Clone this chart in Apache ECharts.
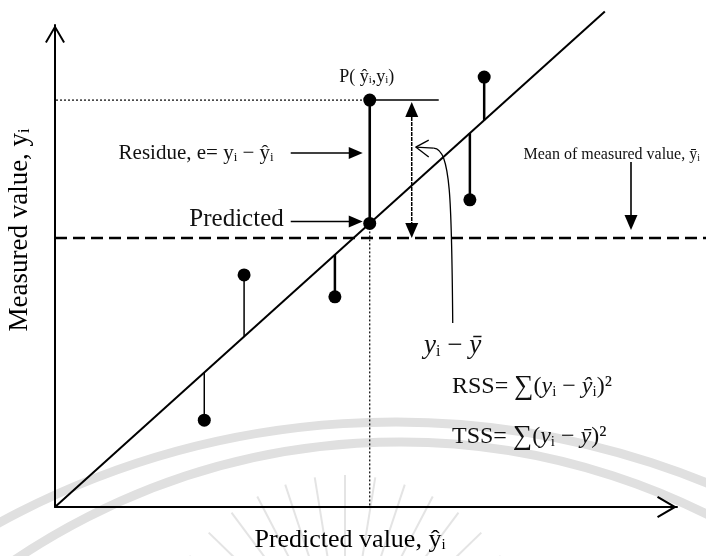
<!DOCTYPE html>
<html>
<head>
<meta charset="utf-8">
<script src="https://cdn.jsdelivr.net/npm/echarts@6/dist/echarts.min.js"></script>
<style>
  html, body { margin: 0; padding: 0; background: #fff; }
  #chart { width: 706px; height: 556px; }
</style>
</head>
<body>
<div id="chart"></div>
<script>
// Sample observations: predicted value ŷ (x) and measured value y
const predicted = [24, 30.4, 45, 50.6, 66.7, 69];
const measured  = [15.5, 41.4, 37.5, 72.6, 54.8, 76.7];
// The observation labelled P(ŷi, yi)
const highlightIndex = 3;
// Mean of the measured values, ȳ
const meanMeasured = 48.0;
// The y = ŷ line is drawn from 0 up to this value
const fitLineEnd = 88.4;
// Axis ranges
const xRange = [0, 100];
const yRange = [0, 86];

// Residual stem widths per observation
const stemWidth = [1.5, 1.5, 2.5, 2.6, 2.5, 2.5];

const FONT = '"Liberation Serif", "Times New Roman", serif';
const chevron = 'path://M0,18 L10.5,0 L21,18 L19.2,19 L10.5,4 L1.8,19 Z';

function sub(size, pad) {
  return { fontFamily: FONT, fontSize: size, fill: '#111', padding: [pad, 0, 0, 0] };
}
function txt(size, italic) {
  return { fontFamily: FONT, fontSize: size, fill: '#111', fontStyle: italic ? 'italic' : 'normal' };
}

// filled triangle arrowhead with its tip at (tx, ty), pointing along (dx, dy)
function arrowHead(tx, ty, dx, dy, len, halfW) {
  const n = Math.hypot(dx, dy); const ux = dx / n, uy = dy / n;
  const bx = tx - ux * len, by = ty - uy * len;
  return {
    type: 'polygon',
    shape: { points: [[tx, ty], [bx - uy * halfW, by + ux * halfW], [bx + uy * halfW, by - ux * halfW]] },
    style: { fill: '#000' }
  };
}
function seg(x1, y1, x2, y2, w, dash) {
  return { type: 'line', shape: { x1, y1, x2, y2 }, style: { stroke: '#000', lineWidth: w, lineDash: dash || null } };
}
function label(x, y, text, rich, align) {
  return { type: 'text', x, y, style: { text, rich, align: align || 'left', verticalAlign: 'middle', fill: '#111' } };
}

// faint seal in the background: two arcs and a fan of rays
const sealGraphics = [
  { type: 'arc', z: -10, shape: { cx: 395, cy: 1250, r: 828, startAngle: Math.PI * 1.1, endAngle: Math.PI * 1.9 },
    style: { stroke: '#e0e0e0', lineWidth: 9, fill: null } },
  { type: 'arc', z: -10, shape: { cx: 400, cy: 1130, r: 688, startAngle: Math.PI * 1.1, endAngle: Math.PI * 1.9 },
    style: { stroke: '#e0e0e0', lineWidth: 9, fill: null } }
];
for (let k = -7; k <= 7; k++) {
  const a = -Math.PI / 2 + k * 0.16;
  const cx = 345, cy = 665;
  sealGraphics.push({
    type: 'line', z: -10,
    shape: { x1: cx + Math.cos(a) * 105, y1: cy + Math.sin(a) * 105, x2: cx + Math.cos(a) * 190, y2: cy + Math.sin(a) * 190 },
    style: { stroke: '#e4e4e4', lineWidth: 2 }
  });
}

const points = predicted.map((p, i) => [p, measured[i]]);

const chart = echarts.init(document.getElementById('chart'), null, { renderer: 'canvas' });

chart.setOption({
  animation: false,
  backgroundColor: '#fff',
  grid: { left: 55, right: 29, top: 25, bottom: 49, containLabel: false, outerBoundsMode: 'none' },
  xAxis: {
    type: 'value', min: xRange[0], max: xRange[1],
    axisLine: { show: true, lineStyle: { color: '#000', width: 2 }, symbol: ['none', chevron], symbolSize: [24, 20], symbolOffset: [0, -10] },
    axisTick: { show: false }, axisLabel: { show: false }, splitLine: { show: false },
    name: '{t|Predicted value, ŷ}{s|i}',
    nameLocation: 'middle', nameGap: 20,
    nameTextStyle: { padding: [0, 32, 0, 0], rich: { t: txt(26), s: sub(15, 10) } }
  },
  yAxis: {
    type: 'value', min: yRange[0], max: yRange[1],
    axisLine: { show: true, lineStyle: { color: '#000', width: 2 }, symbol: ['none', chevron], symbolSize: [21, 18], symbolOffset: [0, -9] },
    axisTick: { show: false }, axisLabel: { show: false }, splitLine: { show: false },
    name: '{t|Measured value, y}{s|i}',
    nameLocation: 'middle', nameGap: 22,
    nameTextStyle: { padding: [0, 0, 0, 72], rich: { t: txt(27), s: sub(16, 10) } }
  },
  graphic: sealGraphics.concat([
    // free text: variance terms
    label(424, 346, '{it|y}{s|i}{t| − }{it|ȳ}', { it: txt(27, true), t: txt(27), s: sub(16, 11) }),
    label(452, 387, '{t|RSS= }{m|∑}{t|(}{it|y}{s|i}{t| − }{it|ŷ}{s|i}{t|)²}',
      { it: txt(24, true), t: txt(24), m: txt(27), s: sub(15, 10) }),
    label(452, 437, '{t|TSS= }{m|∑}{t|(}{it|y}{s|i}{t| − }{it|ȳ}{t|)²}',
      { it: txt(24, true), t: txt(24), m: txt(27), s: sub(15, 10) })
  ]),
  series: [
    {
      // the y = ŷ line
      name: 'fit', type: 'line', clip: false, silent: true, symbol: 'none',
      data: [[0, 0], [fitLineEnd, fitLineEnd]],
      lineStyle: { color: '#000', width: 2 }, z: 3
    },
    {
      // mean of measured values, dashed across the plot
      name: 'mean', type: 'custom', clip: false, silent: true, z: 2,
      data: [[0, meanMeasured]],
      renderItem: function (params, api) {
        const a = api.coord([api.value(0), api.value(1)]);
        return { type: 'line', shape: { x1: a[0], y1: a[1], x2: api.getWidth(), y2: a[1] },
                 style: { stroke: '#000', lineWidth: 2.5, lineDash: [12, 6] } };
      }
    },
    {
      // observations with their residual stems to the line
      name: 'observations', type: 'custom', clip: false, silent: true, z: 5,
      data: points,
      renderItem: function (params, api) {
        const x = api.value(0), y = api.value(1);
        const obs = api.coord([x, y]);
        const fit = api.coord([x, x]);
        const kids = [
          seg(fit[0], fit[1], obs[0], obs[1], stemWidth[params.dataIndex]),
          { type: 'circle', shape: { cx: obs[0], cy: obs[1], r: 6.5 }, style: { fill: '#000' } }
        ];
        if (params.dataIndex === highlightIndex) {
          const yAxisPt = api.coord([0, y]);
          const xAxisPt = api.coord([x, 0]);
          const meanPt = api.coord([x, meanMeasured]);
          kids.push(
            { type: 'circle', shape: { cx: fit[0], cy: fit[1], r: 6.5 }, style: { fill: '#000' } },
            seg(yAxisPt[0] + 1, obs[1], obs[0], obs[1], 1.2, [2, 2]),
            seg(fit[0], fit[1], xAxisPt[0], xAxisPt[1], 1.2, [2, 2]),
            seg(obs[0], obs[1], obs[0] + 69, obs[1], 1.5)
          );
          // P label
          kids.push(label(obs[0] - 3, obs[1] - 23, '{t|P( ŷ}{s|i}{t|,y}{s|i}{t|)}',
            { t: txt(18), s: sub(11, 7) }, 'center'));
          // residue pointer
          const ry = obs[1] + 53;
          kids.push(seg(obs[0] - 79, ry, obs[0] - 18, ry, 1.5), arrowHead(obs[0] - 7, ry, 1, 0, 14, 6));
          kids.push(label(obs[0] - 96, ry, '{t|Residue, e= y}{s|i}{t| − ŷ}{s|i}', { t: txt(21), s: sub(13, 9) }, 'right'));
          // predicted pointer
          const py = fit[1] - 2;
          kids.push(seg(obs[0] - 79, py, obs[0] - 18, py, 1.5), arrowHead(obs[0] - 7, py, 1, 0, 14, 6));
          const pred = label(obs[0] - 86, py - 2, 'Predicted', null, 'right');
          pred.style.fontFamily = FONT;
          pred.style.fontSize = 25;
          kids.push(pred);
          // y_i − ȳ double arrow
          const dx = obs[0] + 42;
          kids.push(seg(dx, obs[1] + 12, dx, meanPt[1] - 12, 1.5, [4, 1]),
                    arrowHead(dx, obs[1] + 2, 0, -1, 15, 6.5),
                    arrowHead(dx, meanPt[1], 0, 1, 15, 6.5));
          // curved pointer from the y_i − ȳ note
          kids.push({
            type: 'bezierCurve',
            shape: { x1: dx + 41, y1: meanPt[1] + 85, cpx1: dx + 40, cpy1: obs[1] + 100,
                     cpx2: dx + 39, cpy2: obs[1] + 49, x2: dx + 22, y2: obs[1] + 48 },
            style: { stroke: '#000', lineWidth: 1.3, fill: null }
          });
          kids.push(seg(dx + 22, obs[1] + 48, dx + 4, obs[1] + 47, 1.3),
                    seg(dx + 4, obs[1] + 47, dx + 17, obs[1] + 40, 1.3),
                    seg(dx + 4, obs[1] + 47, dx + 17, obs[1] + 57, 1.3));
          // mean pointer
          const mx = api.getWidth() - 75;
          kids.push(seg(mx, meanPt[1] - 76, mx, meanPt[1] - 20, 1.6), arrowHead(mx, meanPt[1] - 8, 0, 1, 15, 6.5));
          kids.push(label(api.getWidth() - 6, meanPt[1] - 83, '{t|Mean of measured value, ȳ}{s|i}',
            { t: txt(16), s: sub(10, 7) }, 'right'));
        }
        return { type: 'group', children: kids };
      }
    }
  ]
});
</script>
</body>
</html>
